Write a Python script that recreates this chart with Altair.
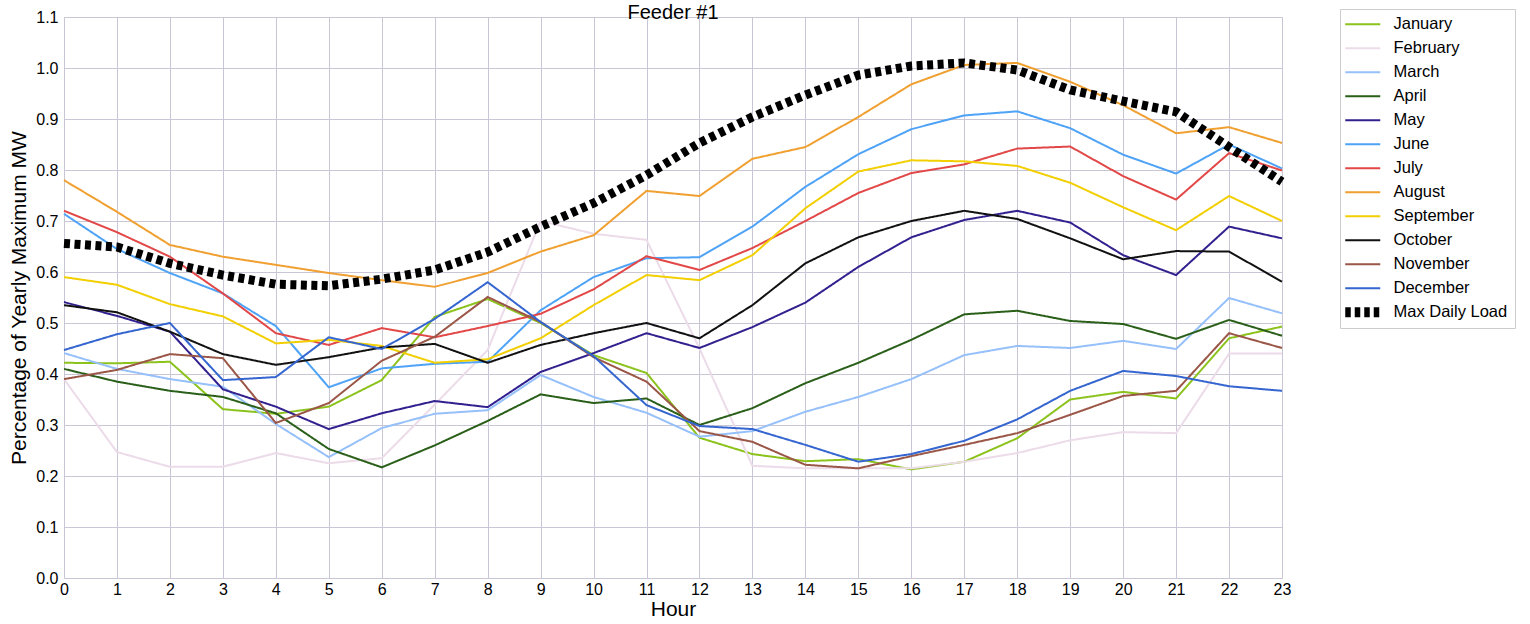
import altair as alt
import pandas as pd

hours = list(range(24))

january = [0.422, 0.421, 0.424, 0.331, 0.322, 0.336, 0.388, 0.512, 0.547, 0.500, 0.437, 0.402,
           0.275, 0.243, 0.229, 0.233, 0.213, 0.228, 0.274, 0.350, 0.365, 0.352, 0.470, 0.493]
february = [0.390, 0.247, 0.218, 0.218, 0.245, 0.225, 0.235, 0.340, 0.447, 0.700, 0.675, 0.663,
            0.450, 0.220, 0.215, 0.215, 0.215, 0.228, 0.245, 0.270, 0.286, 0.284, 0.440, 0.440]
march = [0.441, 0.410, 0.390, 0.375, 0.302, 0.237, 0.294, 0.322, 0.329, 0.398, 0.355, 0.324,
         0.277, 0.288, 0.326, 0.355, 0.390, 0.437, 0.455, 0.451, 0.465, 0.449, 0.549, 0.519]
april = [0.410, 0.385, 0.367, 0.355, 0.323, 0.253, 0.217, 0.260, 0.308, 0.360, 0.343, 0.352,
         0.300, 0.333, 0.382, 0.422, 0.467, 0.517, 0.524, 0.504, 0.498, 0.469, 0.506, 0.475]
may = [0.541, 0.514, 0.483, 0.370, 0.336, 0.292, 0.323, 0.347, 0.335, 0.404, 0.441, 0.480,
       0.451, 0.492, 0.540, 0.610, 0.668, 0.702, 0.720, 0.697, 0.633, 0.594, 0.689, 0.666]
june = [0.714, 0.645, 0.598, 0.558, 0.494, 0.374, 0.411, 0.420, 0.424, 0.525, 0.590, 0.627,
        0.629, 0.689, 0.767, 0.831, 0.880, 0.907, 0.915, 0.882, 0.830, 0.793, 0.850, 0.803]
july = [0.720, 0.678, 0.630, 0.558, 0.480, 0.457, 0.490, 0.472, 0.494, 0.518, 0.566, 0.631,
        0.604, 0.647, 0.700, 0.755, 0.794, 0.811, 0.842, 0.846, 0.788, 0.742, 0.833, 0.799]
august = [0.780, 0.718, 0.653, 0.630, 0.614, 0.598, 0.584, 0.571, 0.598, 0.640, 0.672, 0.759,
          0.749, 0.822, 0.845, 0.904, 0.968, 1.006, 1.010, 0.973, 0.927, 0.872, 0.884, 0.853]
september = [0.590, 0.575, 0.537, 0.513, 0.460, 0.467, 0.455, 0.422, 0.429, 0.470, 0.535, 0.594,
             0.584, 0.633, 0.725, 0.797, 0.819, 0.817, 0.808, 0.775, 0.727, 0.682, 0.749, 0.700]
october = [0.535, 0.521, 0.483, 0.439, 0.418, 0.433, 0.452, 0.459, 0.422, 0.457, 0.480, 0.500,
           0.470, 0.535, 0.617, 0.668, 0.700, 0.720, 0.704, 0.666, 0.625, 0.641, 0.640, 0.581]
november = [0.390, 0.408, 0.439, 0.431, 0.304, 0.343, 0.426, 0.473, 0.551, 0.502, 0.433, 0.385,
            0.288, 0.267, 0.222, 0.215, 0.239, 0.261, 0.284, 0.320, 0.357, 0.367, 0.480, 0.451]
december = [0.447, 0.478, 0.500, 0.388, 0.394, 0.472, 0.449, 0.508, 0.580, 0.502, 0.435, 0.339,
            0.298, 0.292, 0.261, 0.228, 0.243, 0.269, 0.311, 0.367, 0.406, 0.396, 0.376, 0.367]
max_daily = [0.656, 0.649, 0.617, 0.594, 0.576, 0.573, 0.586, 0.604, 0.639, 0.689, 0.735, 0.790,
             0.853, 0.904, 0.947, 0.986, 1.004, 1.010, 0.996, 0.957, 0.935, 0.914, 0.845, 0.777]

series_names = ["January", "February", "March", "April", "May", "June", "July", "August",
                "September", "October", "November", "December", "Max Daily Load"]
series_values = [january, february, march, april, may, june, july, august,
                 september, october, november, december, max_daily]
series_colors = ["#8cc21c", "#ecdbe8", "#96c0fa", "#2a5f19", "#33208f", "#4ea3f7", "#e24848",
                 "#f0a030", "#f2cf00", "#111111", "#9a5646", "#3566d0", "#000000"]
series_dash = [[1, 0]] * 12 + [[6, 4.5]]
series_width = [2] * 12 + [9]

title_text = ["Feeder #1"]
y_ticks = [round(i * 0.1, 1) for i in range(12)]

rows = []
for name, vals, w in zip(series_names, series_values, series_width):
    for h, v in zip(hours, vals):
        rows.append({"Hour": h, "Value": v, "Series": name, "W": w})
df = pd.DataFrame(rows)

FONT = "Liberation Sans"
GRID = "#c9c6d6"

IS_MAX = "datum.value === 'Max Daily Load'"
LINE_PATH = "M-1,0H2.5"
DASH_PATH = ("M-1,-0.5H-0.45V0.5H-1Z M-0.05,-0.5H0.5V0.5H-0.05Z "
             "M0.9,-0.5H1.45V0.5H0.9Z M1.85,-0.5H2.4V0.5H1.85Z")

color = alt.Color("Series:N", title=None,
                  scale=alt.Scale(domain=series_names, range=series_colors),
                  legend=alt.Legend(orient="none", legendX=1276, legendY=-8,
                                    symbolType=alt.ExprRef(
                                        f"{IS_MAX} ? '{DASH_PATH}' : '{LINE_PATH}'"),
                                    symbolSize=400,
                                    symbolStrokeWidth=alt.ExprRef(f"{IS_MAX} ? 0 : 2"),
                                    symbolFillColor=alt.ExprRef(
                                        f"{IS_MAX} ? '#000000' : 'transparent'"),
                                    labelFont=FONT, labelFontSize=16.5, labelColor="#000",
                                    labelOffset=30, rowPadding=7, padding=7,
                                    strokeColor="#cccccc", fillColor="white",
                                    labelLimit=300))
dash = alt.StrokeDash("Series:N", title=None,
                      scale=alt.Scale(domain=series_names, range=series_dash))
width = alt.StrokeWidth("W:Q", scale=None, legend=None)

x = alt.X("Hour:Q", scale=alt.Scale(domain=[0, 23], nice=False, zero=False),
          axis=alt.Axis(values=hours, title="Hour", grid=True, gridColor=GRID,
                        domain=False, ticks=False, labelFont=FONT, labelFontSize=16,
                        labelColor="#000", labelPadding=3, titleFont=FONT,
                        titleFontSize=21, titleFontWeight="normal", titleColor="#000",
                        titlePadding=1, labelFlush=False))
y = alt.Y("Value:Q", scale=alt.Scale(domain=[0, 1.1], nice=False),
          axis=alt.Axis(values=y_ticks, format=".1f", title="Percentage of Yearly Maximum MW",
                        grid=True, gridColor=GRID, domain=False, ticks=False,
                        labelFont=FONT, labelFontSize=16, labelColor="#000",
                        labelPadding=6, titleFont=FONT, titleFontSize=21,
                        titleFontWeight="normal", titleColor="#000", titlePadding=6,
                        labelFlush=False))

months = alt.Chart(df).transform_filter(
    alt.datum.Series != "Max Daily Load"
).mark_line(strokeCap="butt").encode(x=x, y=y, color=color, strokeDash=dash, strokeWidth=width)

maxload = alt.Chart(df).transform_filter(
    alt.datum.Series == "Max Daily Load"
).mark_line(strokeCap="butt").encode(x=x, y=y, color=color, strokeDash=dash, strokeWidth=width)

title = alt.Chart(pd.DataFrame({"t": title_text})).mark_text(
    font=FONT, fontSize=20, color="#000", align="center", baseline="alphabetic"
).encode(text="t:N", x=alt.value(609), y=alt.value(2))

chart = alt.layer(months, maxload, title).properties(
    width=1218, height=561,
    autosize=alt.AutoSizeParams(type="none"),
    padding={"left": 64, "top": 17, "right": 248, "bottom": 46},
).configure_view(stroke=GRID).configure(background="white")

chart.save("out.html", embed_options={"renderer": "svg", "actions": False})
